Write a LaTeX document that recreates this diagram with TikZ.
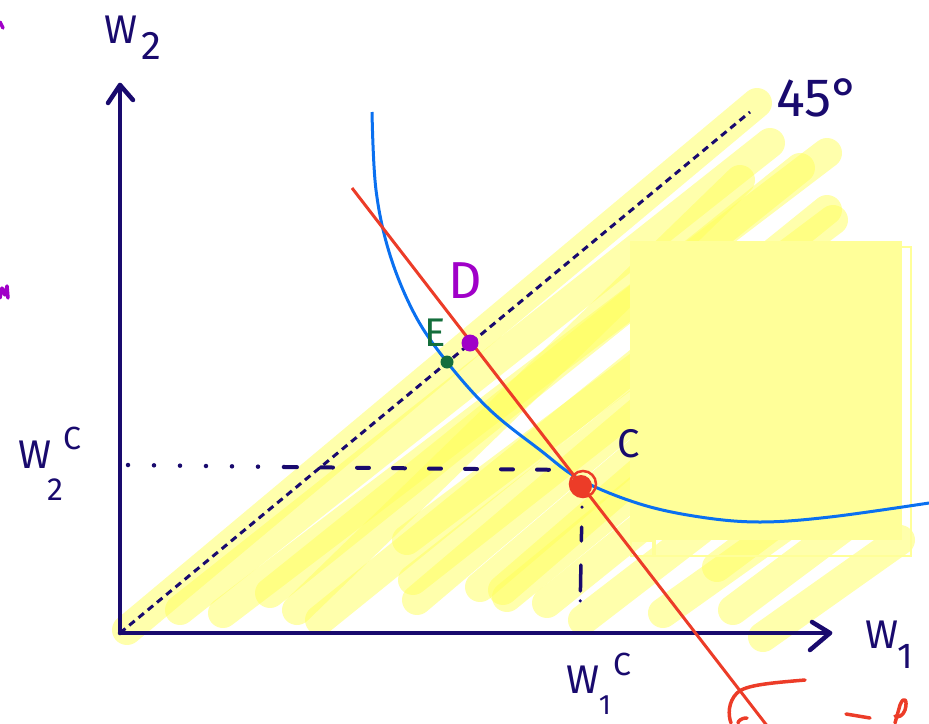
\documentclass[tikz,border=0pt]{standalone}
\usepackage{fontspec}
\setmainfont{Fira Sans}
\usetikzlibrary{calc}
\definecolor{navy}{RGB}{25,10,110}
\definecolor{hlyellow}{RGB}{255,255,90}
\definecolor{boxyellow}{RGB}{255,255,153}
\definecolor{curveblue}{RGB}{10,112,240}
\definecolor{linered}{RGB}{236,60,40}
\definecolor{dpurple}{RGB}{160,0,200}
\definecolor{egreen}{RGB}{20,110,60}
\begin{document}
\begin{tikzpicture}[x=1pt,y=-1pt,
  hl/.style={line width=30pt,line cap=round,draw=hlyellow,opacity=0.5},
  ax/.style={draw=navy,line width=4.5pt,line cap=round,line join=round},
  lbl/.style={text=navy,inner sep=0pt,font=\fontsize{40}{40}\selectfont},
  sml/.style={text=navy,inner sep=0pt,font=\fontsize{32}{32}\selectfont},
  dotn/.style={circle,inner sep=0pt,minimum size=#1},
  scrib/.style={line width=3.5pt,line cap=round,line join=round}]
\useasboundingbox (0,0) rectangle (929,723);
% highlighter strokes
\foreach \xa/\ya/\xb/\yb in {127/630/757/103, 180/610/770/143, 223/613/827/153,
  270/593/800/168, 297/610/740/180, 320/620/827/210, 407/540/833/220,
  413/580/820/260, 417/600/700/360, 480/587/700/400, 503/590/700/420,
  507/597/650/480, 547/603/650/520, 583/620/700/530, 663/613/850/480,
  733/610/880/500, 763/637/900/540, 717/567/780/520}
  \draw[hl] (\xa,\ya) -- (\xb,\yb);
% sticky box
\fill[boxyellow] (630,241) rectangle (902,540);
\draw[boxyellow,line width=2.5pt] (655,247) rectangle (911,556);
\draw[boxyellow,line width=2pt] (631,541) rectangle (653,556);
% coordinates
\coordinate (O) at (120,633);
\coordinate (Ytop) at (120,85);
\coordinate (Xend) at (830,633);
\coordinate (L45) at (750,112);
\coordinate (H0) at (128,465);
\coordinate (H1) at (285,467);
\coordinate (H2) at (572,470);
\coordinate (V0) at (582,507);
\coordinate (V1) at (580,614);
\coordinate (R0) at (352,188);
\coordinate (R1) at (768,727);
% axes
\draw[ax] (O) -- (Ytop);
\draw[ax] (O) -- (Xend);
\draw[ax] (108,103) -- (Ytop) -- (133,100);
\draw[ax] (812,622) -- (Xend) -- (810,650);
% 45 degree line
\draw[navy,line width=3pt,dash pattern=on 7pt off 5pt] (O) -- (L45);
% guide lines
\draw[navy,line width=4.5pt,line cap=round,dash pattern=on 0pt off 26pt] (H0) -- (H1);
\draw[navy,line width=4pt,line cap=round,dash pattern=on 12pt off 24pt] (H1) -- (H2);
\draw[navy,line width=3.5pt,line cap=round,dash pattern=on 0pt off 20pt on 14pt off 24pt on 26pt off 10pt] (V0) -- (V1);
% blue curve
\draw[curveblue,line width=3pt] plot[smooth,tension=0.6] coordinates {(372,112) (376,190) (390,255) (415,315) (447,362) (490,410) (540,450) (581,480) (640,504) (700,517) (760,522) (830,517) (929,503)};
% red line
\draw[linered,line width=3pt] (R0) -- (R1);
% points
\node[dotn=22pt,fill=linered] (C) at (581,486) {};
\draw[linered,line width=2.5pt] (583,484) circle (13);
\node[dotn=17pt,fill=dpurple] (D) at (470,343) {};
\node[dotn=13pt,fill=egreen] (E) at (447,362) {};
% labels
\node[lbl] (w2) at (121,30) {W};
\node[lbl] (w2s) at (151,46) {2};
\node[lbl] (w1) at (882,635) {W};
\node[sml,font=\fontsize{36}{36}\selectfont] (w1s) at (905,656) {1};
\node[lbl] (w2c) at (35,455) {W};
\node[sml] (w2cs) at (55,490) {2};
\node[sml] (w2cc) at (72,438) {C};
\node[lbl] (w1c) at (583,680) {W};
\node[sml,font=\fontsize{28}{28}\selectfont] (w1cs) at (605,705) {1};
\node[sml] (w1cc) at (622,664) {C};
\node[lbl,font=\fontsize{54}{54}\selectfont] (deg) at (818,98) {45°};
\node[lbl] (Cl) at (629,444) {C};
\node[lbl,text=dpurple,font=\fontsize{52}{52}\selectfont] (Dl) at (465,281) {D};
\node[sml,text=egreen,font=\fontsize{40}{40}\selectfont] (El) at (435,333) {E};
% red scribbles bottom right
\draw[linered,scrib] (805,680) .. controls (770,683) and (745,685) .. (737,693) .. controls (728,702) and (728,715) .. (731,723);
\draw[linered,scrib] (747,718) .. controls (740,718) and (738,722) .. (738,723);
\draw[linered,scrib] (846,714) -- (870,718);
\draw[linered,scrib] (895,723) -- (900,705) .. controls (904,695) and (908,700) .. (905,710) .. controls (903,716) and (898,718) .. (895,716);
% purple marks at left edge
\draw[dpurple,scrib] (0,22) -- (3,28);
\draw[dpurple,scrib] (0,298) -- (2,288) -- (5,295) -- (7,286) -- (8,298);
\end{tikzpicture}
\end{document}
